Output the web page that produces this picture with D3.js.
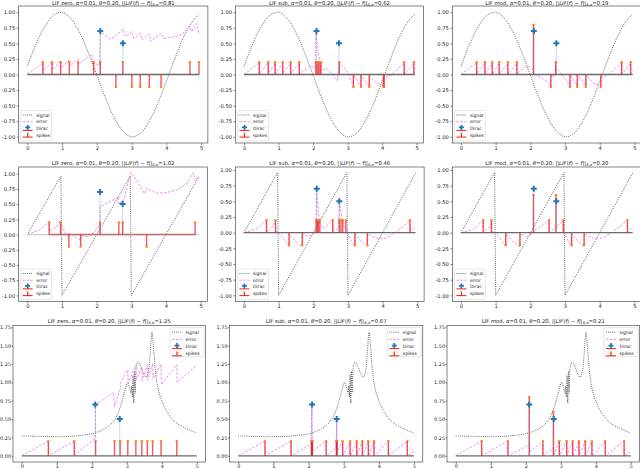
<!DOCTYPE html>
<html><head><meta charset="utf-8">
<script src="https://cdn.jsdelivr.net/npm/d3@7"></script>
<style>body{margin:0;background:#fff}svg{display:block}text{font-family:"DejaVu Sans",sans-serif;fill:#222}</style>
</head><body><svg id="c" width="640" height="469"></svg>
<script>
// ---------------- data ----------------
const xTicks=[0,1,2,3,4,5];
const yTicksA=[-1,-0.75,-0.5,-0.25,0,0.25,0.5,0.75,1];
const yTicksB=[0,0.25,0.5,0.75,1,1.25,1.5,1.75];
const seriesNames=["signal","error","Dirac","spikes"];
const modes=["zero","sub","mod"];
const norms=[0.81,0.62,0.19,1.02,0.46,0.20,1.25,0.67,0.21];

const sineT=[0,0.25,0.5,0.75,1,1.25,1.5,1.75,2,2.25,2.5,2.75,3,3.25,3.5,3.75,4,4.25,4.5,4.75,4.95];
const sineV=[0.13,0.49,0.77,0.95,1.0,0.9,0.68,0.36,-0.01,-0.38,-0.69,-0.91,-1.0,-0.95,-0.76,-0.47,-0.11,0.26,0.6,0.85,0.97];
const sawT=[0,0.97,1.0,2.97,3.0,4.95];
const sawV=[0,0.96,-1.0,0.96,-1.0,0.95];
const peakT=[0,0.5,1.0,1.5,2.0,2.25,2.5,2.7,2.85,2.95,3.02,3.08,3.12,3.14,3.16,3.18,3.2,3.22,3.24,3.27,3.32,3.4,3.5,3.56,3.62,3.67,3.72,3.76,3.82,3.9,4.0,4.15,4.3,4.5,4.75,5.0];
const peakV=[0.27,0.265,0.26,0.27,0.3,0.34,0.41,0.53,0.72,0.9,1.0,0.93,0.85,0.95,0.8,1.1,0.72,1.15,0.85,1.2,1.28,1.22,1.1,1.07,1.15,1.4,1.68,1.5,1.15,0.9,0.75,0.6,0.5,0.42,0.36,0.31];

const diracT=[2.1,2.75];
const diracT3=[2.1,2.8];
const diracV=[0.7,0.5];

const err1=[[0,0.01],[0.45,0.18],[0.46,0.06],[0.71,0.2],[0.72,0.07],[0.96,0.22],[0.97,0.1],[1.21,0.24],[1.22,0.13],[1.46,0.25],[1.47,0.16],[1.86,0.33],[1.91,0.18],[2.08,0.14],[2.1,0.69],[2.39,0.57],[2.55,0.62],[2.75,0.73],[2.82,0.61],[3.01,0.69],[3.06,0.58],[3.25,0.66],[3.3,0.56],[3.51,0.65],[3.55,0.53],[3.85,0.66],[3.92,0.58],[4.2,0.6],[4.44,0.64],[4.68,0.77],[4.73,0.69],[4.88,0.82],[4.94,0.66]];
const err2=[[0,0],[0.44,0.19],[0.45,0.01],[0.7,0.19],[0.71,0.02],[0.9,0.18],[0.91,0.02],[1.12,0.18],[1.13,0.02],[1.35,0.18],[1.36,0.02],[1.6,0.18],[1.61,0.01],[1.91,0.14],[2.06,0.1],[2.08,0.7],[2.12,0.5],[2.16,0.32],[2.2,0.18],[2.23,0.06],[2.39,0.1],[2.64,-0.06],[2.7,-0.1],[2.76,0.18],[2.97,0.07],[3.17,-0.18],[3.18,-0.01],[3.38,-0.18],[3.39,-0.02],[3.62,-0.18],[3.63,-0.02],[3.84,-0.14],[4.05,-0.18],[4.06,-0.06],[4.28,0],[4.64,0.18],[4.65,0.01],[4.92,0.18],[4.93,0.01],[4.95,0.04]];
const err3=[[0,0],[0.45,0.19],[0.46,0.01],[0.69,0.19],[0.7,0.01],[0.9,0.18],[0.91,0.01],[1.1,0.18],[1.11,0.01],[1.35,0.18],[1.36,0.01],[1.61,0.18],[1.62,0.01],[1.89,0.14],[2.06,0.1],[2.09,0.01],[2.28,-0.04],[2.47,-0.11],[2.59,-0.18],[2.6,-0.01],[2.71,-0.04],[2.73,0.12],[2.9,0.0],[3.14,-0.18],[3.15,-0.01],[3.36,-0.18],[3.37,-0.01],[3.6,-0.18],[3.61,-0.01],[3.82,-0.14],[4.03,-0.18],[4.04,-0.06],[4.25,0],[4.63,0.19],[4.64,0.01],[4.89,0.18],[4.9,0.01],[4.95,0.05]];
const err4=[[0,0],[0.37,0.08],[0.63,0.21],[0.64,0.05],[0.85,0.13],[0.94,0.23],[0.99,0.17],[1.09,0.03],[1.2,-0.04],[1.21,0.02],[1.37,-0.04],[1.54,-0.09],[1.55,-0.01],[1.76,-0.04],[1.95,0.05],[2.09,0.16],[2.1,0.46],[2.38,0.54],[2.63,0.62],[2.64,0.49],[2.73,0.56],[2.75,0.49],[2.98,1.02],[3.15,0.9],[3.38,0.67],[3.44,0.76],[3.73,0.68],[4.02,0.69],[4.31,0.73],[4.6,0.84],[4.79,1.02],[4.84,0.89],[4.95,0.96]];
const err5=[[0,0],[0.37,0.06],[0.65,0.2],[0.66,0.01],[0.85,0.11],[0.91,0.2],[0.92,0.01],[0.99,0.01],[1.13,-0.09],[1.3,-0.22],[1.31,-0.02],[1.5,-0.15],[1.68,-0.22],[1.69,-0.02],[1.86,-0.06],[2.0,-0.02],[2.08,0.06],[2.09,0.7],[2.12,0.51],[2.15,0.32],[2.19,0.15],[2.29,0.06],[2.56,0.2],[2.57,0.01],[2.73,0.07],[2.75,0.51],[2.8,0.32],[2.85,0.16],[2.94,0.03],[2.98,0.0],[3.06,-0.09],[3.2,-0.22],[3.21,-0.02],[3.39,-0.14],[3.56,-0.22],[3.57,-0.02],[3.83,-0.09],[4.07,-0.09],[4.36,0.0],[4.6,0.1],[4.79,0.2],[4.8,0.01],[4.95,0.09]];
const err6=[[0,0],[0.36,0.05],[0.64,0.2],[0.65,0.01],[0.84,0.1],[0.88,0.2],[0.89,0.01],[0.98,0.01],[1.13,-0.09],[1.29,-0.22],[1.3,-0.02],[1.51,-0.15],[1.7,-0.22],[1.71,-0.02],[1.89,-0.06],[2.04,-0.02],[2.09,0.0],[2.1,0.03],[2.33,0.11],[2.54,0.2],[2.55,0.01],[2.73,0.07],[2.74,0.1],[2.86,0.14],[2.95,0.2],[2.96,0.01],[3.05,-0.09],[3.19,-0.22],[3.2,-0.02],[3.38,-0.14],[3.55,-0.22],[3.56,-0.02],[3.82,-0.09],[4.06,-0.09],[4.35,0.0],[4.59,0.1],[4.8,0.2],[4.81,0.01],[4.95,0.1]];
const err7=[[0,0],[0.76,0.2],[0.77,0.0],[1.5,0.2],[1.51,0.01],[2.1,0.24],[2.11,0.7],[2.62,0.86],[2.65,0.67],[2.81,0.9],[2.82,0.99],[3.03,1.17],[3.04,0.99],[3.26,1.24],[3.27,1.03],[3.43,1.21],[3.44,1.02],[3.59,1.24],[3.6,1.03],[3.74,1.26],[3.75,1.05],[3.98,1.25],[3.99,0.97],[4.43,1.24],[4.44,1.0],[5.0,1.24]];
const err8=[[0,0],[0.76,0.2],[0.77,0],[1.5,0.2],[1.51,0],[2.07,0.16],[2.09,0.7],[2.1,0.06],[2.5,0.2],[2.51,0],[2.78,0.1],[2.8,0.5],[2.81,0.05],[2.97,0.2],[2.98,0],[3.18,0.2],[3.19,0],[3.37,0.2],[3.38,0],[3.53,0.2],[3.54,0],[3.7,0.2],[3.71,0],[3.86,0.2],[3.87,0],[4.27,0.2],[4.28,0],[4.81,0.2],[4.82,0],[5.0,0.06]];
const err9=[[0,0],[0.74,0.2],[0.75,0],[1.49,0.2],[1.5,0],[2.1,0.15],[2.11,0.05],[2.49,0.2],[2.5,0],[2.79,0.11],[2.8,0.01],[2.96,0.2],[2.97,0],[3.17,0.2],[3.18,0],[3.34,0.2],[3.35,0],[3.52,0.2],[3.53,0],[3.7,0.2],[3.71,0],[3.89,0.2],[3.9,0],[4.27,0.2],[4.28,0],[4.81,0.2],[4.82,0],[5.0,0.06]];

const spk1=[[0.45,0.2],[0.71,0.2],[0.96,0.2],[1.21,0.2],[1.46,0.2],[1.91,0.2],[2.1,0.2],[2.55,-0.2],[2.75,0.2],[3.01,-0.2],[3.25,-0.2],[3.51,-0.2],[3.85,-0.2],[4.68,0.2],[4.94,0.2]];
const spk2=[[0.44,0.2],[0.7,0.2],[0.9,0.2],[1.12,0.2],[1.35,0.2],[1.6,0.2],[2.08,0.2],[2.12,0.2],[2.16,0.2],[2.2,0.2],[2.23,0.2],[2.76,0.2],[3.17,-0.2],[3.39,-0.2],[3.63,-0.2],[4.04,-0.2],[4.06,-0.2],[4.64,0.2],[4.92,0.2]];
const spk3=[[0.45,0.2],[0.69,0.2],[0.9,0.2],[1.1,0.2],[1.35,0.2],[1.61,0.2],[2.09,0.8],[2.59,-0.2],[2.73,0.2],[3.14,-0.2],[3.35,-0.2],[3.6,-0.2],[4.03,-0.2],[4.63,0.2],[4.89,0.2]];
const spk4=[[0.63,0.2],[0.96,0.2],[1.2,-0.2],[1.54,-0.2],[2.1,0.2],[2.64,0.2],[2.75,0.2],[3.44,-0.2],[4.84,0.2]];
const spk5=[[0.65,0.2],[0.91,0.2],[1.3,-0.2],[1.68,-0.2],[2.08,0.2],[2.12,0.2],[2.15,0.2],[2.19,0.2],[2.56,0.2],[2.75,0.2],[2.8,0.2],[2.85,0.2],[2.94,0.2],[3.2,-0.2],[3.56,-0.2],[4.79,0.2]];
const spk6=[[0.64,0.2],[0.88,0.2],[1.29,-0.2],[1.7,-0.2],[2.09,0.6],[2.54,0.2],[2.74,0.6],[2.95,0.2],[3.19,-0.2],[3.55,-0.2],[4.8,0.2]];
const spk7=[[0.76,0.2],[1.5,0.2],[2.11,0.2],[2.65,0.2],[2.81,0.2],[3.03,0.2],[3.26,0.2],[3.43,0.2],[3.59,0.2],[3.74,0.2],[3.98,0.2],[4.43,0.2]];
const spk8=[[0.76,0.2],[1.5,0.2],[2.08,0.2],[2.09,0.2],[2.1,0.2],[2.11,0.2],[2.5,0.2],[2.79,0.2],[2.8,0.2],[2.81,0.2],[2.97,0.2],[3.18,0.2],[3.37,0.2],[3.53,0.2],[3.7,0.2],[3.86,0.2],[4.27,0.2],[4.81,0.2]];
const spk9=[[0.74,0.2],[1.49,0.2],[2.1,0.8],[2.49,0.2],[2.79,0.6],[2.96,0.2],[3.17,0.2],[3.34,0.2],[3.52,0.2],[3.7,0.2],[3.89,0.2],[4.27,0.2],[4.81,0.2]];

// ---------------- layout / style ----------------
const errs=[err1,err2,err3,err4,err5,err6,err7,err8,err9];
const spks=[spk1,spk2,spk3,spk4,spk5,spk6,spk7,spk8,spk9];
const layout=[
 {l:18.7,r:207.9,t:6,b:143},{l:235.5,r:423.4,t:6,b:143},{l:452.4,r:641.3,t:6,b:143},
 {l:18.7,r:207.5,t:167,b:301.5},{l:235.4,r:424.1,t:167,b:301.5},{l:452.4,r:641.2,t:167,b:301.5},
 {l:13,r:205.5,t:325.5,b:462},{l:229.5,r:422.8,t:325.5,b:462},{l:447,r:639.5,t:325.5,b:462}
];
const xDomA=[-0.2475,5.1975], xDomB=[-0.25,5.25];
const yDoms=[[-1.1,1.1],[-1.1,1.1],[-1.1,1.1],[-1.1,1.11],[-1.0975,1.0475],[-1.0975,1.0475],[-0.0845,1.7745],[-0.0845,1.7745],[-0.0845,1.7745]];
const baseCol=["#6a6a6a","#6a6a6a","#6a6a6a","#c9c9c9","#6a6a6a","#6a6a6a","#6a6a6a","#6a6a6a","#6a6a6a"];
const C={sig:"#333",err:"#f08cf0",dirac:"#1f77b4",stem:"#f21d1d",mark:"#ff7f0e",base:"#c46a6a"};

const svg=d3.select("#c");
const fmtY=d=>d3.format(".2f")(d).replace("\u2212","-");

function title(g,cx,y,mode,norm,fs){
  const t=g.append("text").attr("x",cx).attr("y",y).attr("text-anchor","middle").style("font-size",fs+"px");
  t.append("tspan").text(`LIF ${mode}, `);
  t.append("tspan").attr("font-style","italic").text("α");
  t.append("tspan").text("=0.01, ");
  t.append("tspan").attr("font-style","italic").text("θ");
  t.append("tspan").text("=0.20, ||");
  t.append("tspan").attr("font-style","italic").text("LIF");
  t.append("tspan").text("(");
  t.append("tspan").attr("font-style","italic").text("f");
  t.append("tspan").text(") − ");
  t.append("tspan").attr("font-style","italic").text("f");
  t.append("tspan").text("||");
  t.append("tspan").attr("font-style","italic").style("font-size",(fs*0.7)+"px").attr("dy",fs*0.28).text("A,α");
  t.append("tspan").attr("dy",-fs*0.28).text("="+norm.toFixed(2));
}

function legend(g,bx,by,w,h,step,fs){
  g.append("rect").attr("x",bx).attr("y",by).attr("width",w).attr("height",h).attr("rx",1)
   .attr("fill","#fff").attr("fill-opacity",0.8).attr("stroke","#ccc").attr("stroke-width",0.5);
  const hx0=bx+2,hx1=bx+12,tx=bx+15.5;
  seriesNames.forEach((n,k)=>{
    const yy=by+4.5+k*step;
    if(k===0) g.append("line").attr("x1",hx0).attr("x2",hx1).attr("y1",yy).attr("y2",yy).attr("stroke",C.sig).attr("stroke-width",0.9).attr("stroke-dasharray","0.8,1.3");
    if(k===1) g.append("line").attr("x1",hx0).attr("x2",hx1).attr("y1",yy).attr("y2",yy).attr("stroke",C.err).attr("stroke-width",1).attr("stroke-dasharray","2.5,1.5");
    if(k===2){
      g.append("line").attr("x1",hx0).attr("x2",hx1).attr("y1",yy+2).attr("y2",yy+2).attr("stroke",C.stem).attr("stroke-width",1);
      g.append("line").attr("x1",(hx0+hx1)/2).attr("x2",(hx0+hx1)/2).attr("y1",yy+2).attr("y2",yy-1).attr("stroke",C.dirac).attr("stroke-width",0.8).attr("stroke-dasharray","0.8,0.8");
      g.append("path").attr("d",d3.symbol(d3.symbolCross,14)()).attr("transform",`translate(${(hx0+hx1)/2},${yy-1})`).attr("fill",C.dirac);
    }
    if(k===3){
      g.append("line").attr("x1",hx0).attr("x2",hx1).attr("y1",yy+2).attr("y2",yy+2).attr("stroke",C.stem).attr("stroke-width",1);
      g.append("line").attr("x1",(hx0+hx1)/2).attr("x2",(hx0+hx1)/2).attr("y1",yy+2).attr("y2",yy-1.5).attr("stroke",C.stem).attr("stroke-width",1.2);
      g.append("circle").attr("cx",(hx0+hx1)/2).attr("cy",yy-1.5).attr("r",1).attr("fill",C.mark);
    }
    g.append("text").attr("x",tx).attr("y",yy).attr("dy","0.35em").style("font-size",fs+"px").text(n);
  });
}

function drawPanel(i){
  const L=layout[i], row=Math.floor(i/3), col=i%3;
  const x=d3.scaleLinear().domain(row<2?xDomA:xDomB).range([L.l,L.r]);
  const y=d3.scaleLinear().domain(yDoms[i]).range([L.b,L.t]);
  const g=svg.append("g");
  g.append("clipPath").attr("id","cp"+i).append("rect").attr("x",L.l).attr("y",L.t).attr("width",L.r-L.l).attr("height",L.b-L.t);
  const pg=g.append("g").attr("clip-path",`url(#cp${i})`);
  const sT=[sineT,sawT,peakT][row], sV=[sineV,sawV,peakV][row];
  const sig=sT.map((t,k)=>[t,sV[k]]);
  const lineC=d3.line().x(d=>x(d[0])).y(d=>y(d[1])).curve(d3.curveCatmullRom.alpha(0.5));
  const lineL=d3.line().x(d=>x(d[0])).y(d=>y(d[1]));
  const tEnd=row<2?4.95:5.0;
  pg.append("path").attr("d",(row===1?lineL:lineC)(sig)).attr("fill","none").attr("stroke",C.sig).attr("stroke-width",0.9).attr("stroke-dasharray","0.8,1.3");
  pg.append("path").attr("d",lineL(errs[i])).attr("fill","none").attr("stroke",C.err).attr("stroke-width",1).attr("stroke-dasharray","2.5,1.5");
  pg.append("line").attr("x1",x(0)).attr("x2",x(tEnd)).attr("y1",y(0)).attr("y2",y(0)).attr("stroke",baseCol[i]).attr("stroke-width",1.3);
  const sp=spks[i];
  if(i===3){
    pg.append("line").attr("x1",x(d3.min(sp,d=>d[0]))).attr("x2",x(d3.max(sp,d=>d[0]))).attr("y1",y(0)).attr("y2",y(0)).attr("stroke",C.base).attr("stroke-width",1.6);
  }
  pg.selectAll(".stem").data(sp).enter().append("line")
    .attr("x1",d=>x(d[0])).attr("x2",d=>x(d[0])).attr("y1",y(0)).attr("y2",d=>y(d[1]))
    .attr("stroke",C.stem).attr("stroke-width",1.4).attr("stroke-opacity",0.75);
  pg.selectAll(".mk").data(sp).enter().append("rect")
    .attr("x",d=>x(d[0])-1.2).attr("y",d=>y(d[1])-0.9).attr("width",2.4).attr("height",1.8).attr("fill",C.mark);
  const dT=row<2?diracT:diracT3;
  const dd=dT.map((t,k)=>[t,diracV[k]]);
  pg.selectAll(".dst").data(dd).enter().append("line")
    .attr("x1",d=>x(d[0])).attr("x2",d=>x(d[0])).attr("y1",y(0)).attr("y2",d=>y(d[1]))
    .attr("stroke",C.dirac).attr("stroke-width",0.9).attr("stroke-opacity",0.6).attr("stroke-dasharray","0.9,0.9");
  pg.selectAll(".dmk").data(dd).enter().append("path")
    .attr("d",d3.symbol(d3.symbolCross,20)()).attr("transform",d=>`translate(${x(d[0])},${y(d[1])})`).attr("fill",C.dirac);
  const fs=row<2?5.2:4.9;
  const ax=g.append("g").attr("transform",`translate(0,${L.b})`)
    .call(d3.axisBottom(x).tickValues(xTicks).tickFormat(d3.format("d")).tickSize(2).tickPadding(1));
  const ay=g.append("g").attr("transform",`translate(${L.l},0)`)
    .call(d3.axisLeft(y).tickValues(row<2?yTicksA:yTicksB).tickFormat(fmtY).tickSize(row<2?2:1.5).tickPadding(row<2?1.5:0.5));
  [ax,ay].forEach(a=>{a.select(".domain").remove();a.selectAll("line").attr("stroke","#333").attr("stroke-width",0.6);a.selectAll("text").style("font-size",fs+"px").attr("fill","#222").style("font-family","DejaVu Sans");});
  g.append("rect").attr("x",L.l).attr("y",L.t).attr("width",L.r-L.l).attr("height",L.b-L.t).attr("fill","none").attr("stroke","#333").attr("stroke-width",0.6);
  const ty=[4.8,164.8,323][row];
  title(g,(L.l+L.r)/2,ty,modes[col],norms[i],5.3);
  if(row<2) legend(g,L.l+2,L.b-32.5,31,30.5,6.7,4.5);
  else legend(g,L.r-35.5,L.t+2.2,34,29,7.2,4.5);
}
for(let i=0;i<9;i++) drawPanel(i);
</script></body></html>
